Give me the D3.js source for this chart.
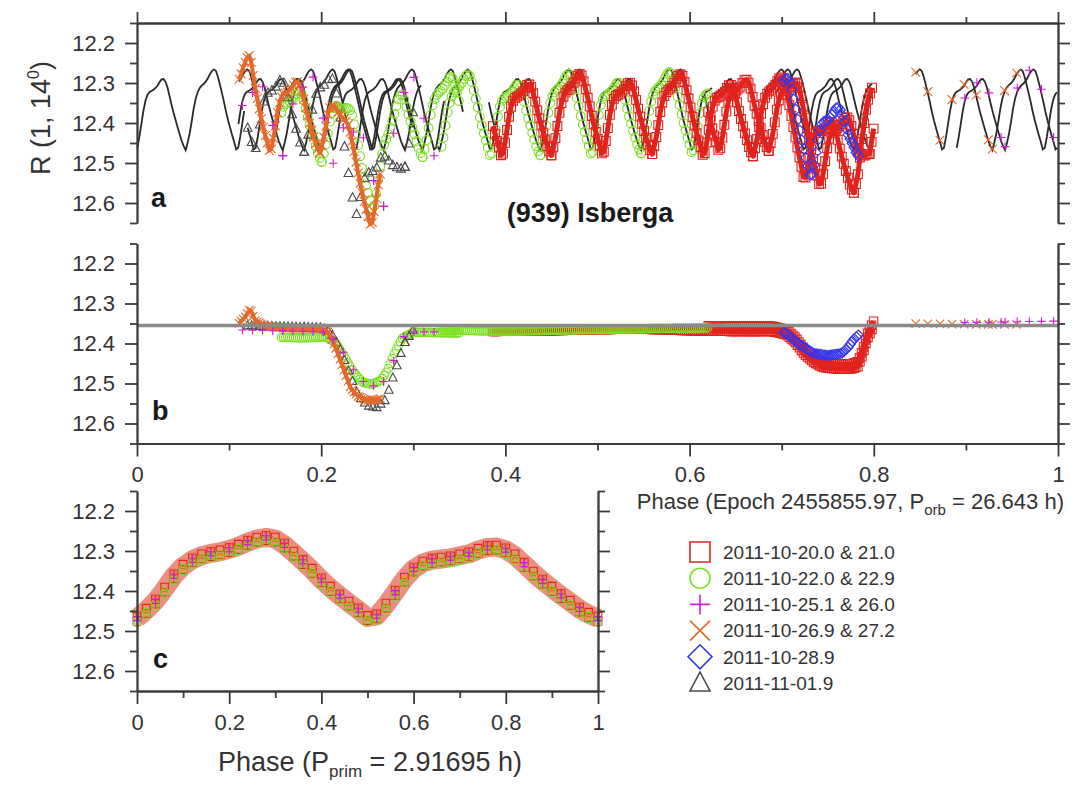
<!DOCTYPE html>
<html>
<head>
<meta charset="utf-8">
<script src="https://cdn.jsdelivr.net/npm/d3@7/dist/d3.min.js"></script>
<style>
  body { margin: 0; background: #fff; }
  text { font-family: "Liberation Sans", Arial, Helvetica, sans-serif; }
</style>
</head>
<body>
<svg id="chart" width="1076" height="785"></svg>
<script>
// periods quoted in the axis titles
const pPrim = 2.91695;
const pOrb = 26.643;
const baseLevel = 12.355; // grey reference line of panel b

// mean primary lightcurve
const primPhase = [0, 0.02, 0.04, 0.06, 0.08, 0.10, 0.12, 0.14, 0.16, 0.18, 0.20, 0.22, 0.24, 0.26, 0.28, 0.30,
  0.32, 0.34, 0.36, 0.38, 0.40, 0.42, 0.44, 0.46, 0.48, 0.50, 0.52, 0.54, 0.56, 0.58, 0.60, 0.62, 0.64,
  0.66, 0.68, 0.70, 0.72, 0.74, 0.76, 0.78, 0.80, 0.82, 0.84, 0.86, 0.88, 0.90, 0.92, 0.94, 0.96, 0.98, 1.00];
const primMag = [12.468, 12.448, 12.425, 12.395, 12.362, 12.338, 12.322, 12.312, 12.306, 12.302, 12.296,
  12.288, 12.278, 12.270, 12.266, 12.270, 12.285, 12.305, 12.326, 12.348, 12.372, 12.393, 12.412, 12.430,
  12.447, 12.466, 12.462, 12.435, 12.403, 12.370, 12.345, 12.330, 12.323, 12.320, 12.317, 12.312, 12.307,
  12.298, 12.291, 12.290, 12.297, 12.312, 12.333, 12.355, 12.375, 12.393, 12.411, 12.428, 12.445, 12.458, 12.468];

// legend entries
const groupLabels = ['2011-10-20.0 & 21.0', '2011-10-22.0 & 22.9', '2011-10-25.1 & 26.0',
  '2011-10-26.9 & 27.2', '2011-10-28.9', '2011-11-01.9'];
const groupColors = ['#e2231d', '#7ddf22', '#cf1fd3', '#e4692a', '#3535ee', '#4a4a4a'];
const groupSymbols = ['square', 'circle', 'plus', 'times', 'diamond', 'triangle'];

// panel b: reduced (rotation removed) curves per legend entry
const eclPhase = [
  [0.38, 0.45, 0.50, 0.55, 0.60, 0.65, 0.69, 0.705, 0.715, 0.725, 0.735, 0.745, 0.76, 0.775, 0.783, 0.788, 0.793, 0.80],
  [0.15, 0.18, 0.205, 0.215, 0.225, 0.235, 0.245, 0.255, 0.265, 0.272, 0.28, 0.288, 0.30, 0.35, 0.40, 0.45, 0.50, 0.55, 0.625],
  [0.11, 0.205, 0.22, 0.235, 0.25, 0.265, 0.275, 0.283, 0.29, 0.30, 0.34, 0.89, 1.0],
  [0.11, 0.118, 0.123, 0.128, 0.14, 0.17, 0.20, 0.208, 0.216, 0.224, 0.232, 0.24, 0.25, 0.258, 0.265, 0.84, 0.90, 0.96],
  [0.695, 0.705, 0.715, 0.725, 0.735, 0.75, 0.765, 0.772, 0.778, 0.785],
  [0.12, 0.20, 0.21, 0.22, 0.23, 0.24, 0.25, 0.26, 0.27, 0.28, 0.29, 0.30, 0.32]
];
const eclMag = [
  [12.362, 12.36, 12.357, 12.356, 12.36, 12.362, 12.362, 12.37, 12.39, 12.42, 12.44, 12.452, 12.456, 12.456, 12.45, 12.42, 12.38, 12.348],
  [12.372, 12.374, 12.372, 12.385, 12.42, 12.46, 12.485, 12.49, 12.48, 12.455, 12.41, 12.375, 12.36, 12.362, 12.365, 12.362, 12.36, 12.358, 12.356],
  [12.36, 12.365, 12.40, 12.46, 12.50, 12.50, 12.46, 12.41, 12.375, 12.365, 12.365, 12.352, 12.348],
  [12.35, 12.33, 12.31, 12.34, 12.355, 12.36, 12.36, 12.37, 12.41, 12.46, 12.51, 12.53, 12.54, 12.54, 12.535, 12.358, 12.36, 12.36],
  [12.365, 12.375, 12.395, 12.41, 12.425, 12.43, 12.425, 12.41, 12.39, 12.375],
  [12.355, 12.36, 12.37, 12.41, 12.47, 12.53, 12.555, 12.56, 12.54, 12.47, 12.40, 12.365, 12.36]
];

// single nights: legend entry, orbital phase of a rotational zero, observed span, model spans
const nightGroup = [0, 0, 1, 1, 2, 2, 3, 3, 4, 5];
const nightZero = [0.012, 0.029, 0.0911, 0.000, 0.0488, 0.0667, 0.0529, 0.089, 0.019, 0.072];
const nightData = [[0.385, 0.80], [0.62, 0.80], [0.155, 0.35], [0.33, 0.62], [0.11, 0.33],
  [0.895, 1.0], [0.845, 0.96], [0.11, 0.265], [0.70, 0.785], [0.12, 0.30]];
const nightModel = [[[0.38, 0.80]], [[0.615, 0.80]], [[0.15, 0.355]], [[0.325, 0.625]], [[0.11, 0.335]],
  [[0.89, 1.0]], [[0.845, 1.0], [0, 0.118]], [[0.11, 0.30]], [[0.695, 0.80]], [[0.12, 0.31]]];
const nightStride = [1, 1, 1, 1, 5, 6, 6, 1, 1, 2];
const nightResid = [0.008, -0.005, 0.012, 0.005, 0.006, -0.004, -0.008, 0.002, 0.0, 0.0];
// nights whose dense runs read as a solid band in panels a and b
const nightBand = [5, 5, 0, 0, 0, 0, 0, 4, 0, 0];

const yMajor = [12.2, 12.3, 12.4, 12.5, 12.6];
const yMinor = [12.15, 12.25, 12.35, 12.45, 12.55, 12.65];
const xMajor = [0, 0.2, 0.4, 0.6, 0.8, 1];
const xMinor = [0.1, 0.3, 0.5, 0.7, 0.9];

const axisColor = '#3a3a3a';
const fontFamily = '"Liberation Sans", Arial, Helvetica, sans-serif';

const svg = d3.select('#chart');

const xAB = d3.scaleLinear().domain([0, 1]).range([137, 1058]);
const xC = d3.scaleLinear().domain([0, 1]).range([137, 598]);
const yA = d3.scaleLinear().domain([12.15, 12.65]).range([23, 223]);
const yB = d3.scaleLinear().domain([12.15, 12.65]).range([243.5, 443.5]);
const yC = d3.scaleLinear().domain([12.15, 12.65]).range([491, 691]);

const pRot = pPrim / pOrb;
const eclScale = eclPhase.map((ph, i) => d3.scaleLinear().domain(ph).range(eclMag[i]).clamp(true));

const markerPath = {
  square: s => `M${-s},${-s}H${s}V${s}H${-s}Z`,
  circle: s => `M${s},0A${s},${s} 0 1,1 ${-s},0A${s},${s} 0 1,1 ${s},0`,
  plus: s => `M${-s},0H${s}M0,${-s}V${s}`,
  times: s => `M${-s},${-s}L${s},${s}M${-s},${s}L${s},${-s}`,
  diamond: s => `M0,${-s * 1.2}L${s * 1.2},0L0,${s * 1.2}L${-s * 1.2},0Z`,
  triangle: s => `M0,${-s * 1.1}L${s},${s * 0.8}L${-s},${s * 0.8}Z`
};

// the primary lightcurve laid out along the orbital phase for one night
function rotationSamples (zero, span, stride) {
  const pts = [];
  for (let k = -12; k <= 12; k++) {
    primPhase.forEach(function (r, i) {
      if (i % stride) return;
      const ph = zero + (k + r) * pRot;
      if (ph >= span[0] && ph <= span[1]) pts.push({ ph: ph, mag: primMag[i] });
    });
  }
  return pts.sort((a, b) => a.ph - b.ph);
}

function styleAxis (g) {
  g.attr('font-size', 22).attr('font-family', fontFamily);
  g.select('.domain').attr('stroke', axisColor).attr('stroke-width', 1.8);
  g.selectAll('.tick line').attr('stroke', axisColor).attr('stroke-width', 1.8);
  g.selectAll('.tick text').attr('fill', '#333');
}

function addAxis (axisFn, scale, pos, major, minor, bigLen, smallLen, fmt) {
  svg.append('g')
    .attr('transform', pos)
    .call(axisFn(scale).tickValues(minor).tickSize(smallLen).tickSizeOuter(0).tickFormat(''))
    .call(styleAxis);
  svg.append('g')
    .attr('transform', pos)
    .call(axisFn(scale).tickValues(major).tickSize(bigLen).tickSizeOuter(0).tickPadding(10)
      .tickFormat(fmt || ''))
    .call(styleAxis);
}

const fmtY = d3.format('.1f');
const fmtX = d3.format('~g');

function drawMarkers (pts, x, y, grp, s, band) {
  if (band) {
    svg.append('path')
      .attr('d', d3.line().x(d => x(d.ph)).y(d => y(d.mag))(pts))
      .attr('fill', 'none')
      .attr('stroke', groupColors[grp])
      .attr('stroke-width', band)
      .attr('stroke-linejoin', 'round');
  }
  svg.append('g')
    .selectAll('path')
    .data(pts)
    .join('path')
      .attr('transform', d => `translate(${x(d.ph)},${y(d.mag)})`)
      .attr('d', markerPath[groupSymbols[grp]](s))
      .attr('fill', 'none')
      .attr('stroke', groupColors[grp])
      .attr('stroke-width', 1.1);
}

// ---------- panel a ----------
const modelLine = d3.line().x(d => xAB(d.ph)).y(d => yA(d.mag));
nightModel.forEach(function (spans, n) {
  spans.forEach(function (span) {
    svg.append('path')
      .attr('d', modelLine(rotationSamples(nightZero[n], span, 1)))
      .attr('fill', 'none')
      .attr('stroke', '#2a2a2a')
      .attr('stroke-width', 1.8);
  });
});

const orderA = [1, 0, 4, 5, 3, 2];
orderA.forEach(function (grp) {
  nightGroup.forEach(function (g, n) {
    if (g !== grp) return;
    const pts = rotationSamples(nightZero[n], nightData[n], nightStride[n])
      .map(p => ({ ph: p.ph, mag: p.mag + eclScale[g](p.ph) - baseLevel + nightResid[n] }));
    drawMarkers(pts, xAB, yA, g, 4.4, nightBand[n]);
  });
});

// ---------- panel b ----------
const orderB = [0, 1, 4, 5, 3, 2];
orderB.forEach(function (grp) {
  nightGroup.forEach(function (g, n) {
    if (g !== grp) return;
    const pts = rotationSamples(nightZero[n], nightData[n], nightStride[n])
      .map(p => ({ ph: p.ph, mag: eclScale[g](p.ph) + nightResid[n] }));
    drawMarkers(pts, xAB, yB, g, 4.2, nightBand[n]);
  });
});

svg.append('line')
  .attr('x1', xAB(0)).attr('x2', xAB(1))
  .attr('y1', yB(baseLevel)).attr('y2', yB(baseLevel))
  .attr('stroke', '#8a8a8a')
  .attr('stroke-width', 3.5);

// ---------- panel c ----------
const bandLine = d3.line().x((d, i) => xC(primPhase[i])).y(d => yC(d));
svg.append('path')
  .attr('d', bandLine(primMag))
  .attr('fill', 'none')
  .attr('stroke', '#e0452c')
  .attr('stroke-opacity', 0.6)
  .attr('stroke-width', 19)
  .attr('stroke-linejoin', 'round');

const orderC = [0, 3, 1, 2];
orderC.forEach(function (grp) {
  nightGroup.forEach(function (g, n) {
    if (g !== grp) return;
    const st = Math.min(nightStride[n], 2);
    const pts = primPhase
      .map((r, i) => ({ ph: r, mag: primMag[i] + nightResid[n], i: i }))
      .filter(p => p.i % st === 0);
    drawMarkers(pts, xC, yC, g, 3.8, 0);
  });
});

// ---------- axes ----------
// panel a
addAxis(d3.axisLeft, yA, 'translate(137,0)', yMajor, yMinor, 12, 7, fmtY);
addAxis(d3.axisRight, yA, 'translate(1058,0)', yMajor, yMinor, 12, 7);
addAxis(d3.axisTop, xAB, 'translate(0,23)', xMajor, xMinor, 11, 6);
// panel b
addAxis(d3.axisLeft, yB, 'translate(137,0)', yMajor, yMinor, 12, 7, fmtY);
addAxis(d3.axisRight, yB, 'translate(1058,0)', yMajor, yMinor, 12, 7);
addAxis(d3.axisBottom, xAB, 'translate(0,443.5)', xMajor, xMinor, 13, 7, fmtX);
// panel c
addAxis(d3.axisLeft, yC, 'translate(137,0)', yMajor, yMinor, 12, 7, fmtY);
addAxis(d3.axisRight, yC, 'translate(598,0)', yMajor, yMinor, 12, 7);
addAxis(d3.axisBottom, xC, 'translate(0,691)', xMajor, xMinor, 13, 7, fmtX);

// ---------- texts ----------
const ylab = svg.append('text')
  .attr('transform', 'translate(50,118) rotate(-90)')
  .attr('text-anchor', 'middle')
  .attr('font-size', 27)
  .attr('fill', '#333');
ylab.append('tspan').text('R (1, 14');
ylab.append('tspan').attr('font-size', 16).attr('dy', -11).text('0');
ylab.append('tspan').attr('dy', 11).text(')');

[['a', 151, 207], ['b', 152, 420], ['c', 153, 668]].forEach(function (d) {
  svg.append('text')
    .attr('x', d[1]).attr('y', d[2])
    .attr('font-size', 27)
    .attr('font-weight', 'bold')
    .attr('fill', '#1a1a1a')
    .text(d[0]);
});

svg.append('text')
  .attr('x', 590).attr('y', 222)
  .attr('text-anchor', 'middle')
  .attr('font-size', 27)
  .attr('font-weight', 'bold')
  .attr('fill', '#1a1a1a')
  .text('(939) Isberga');

const xlabB = svg.append('text')
  .attr('x', 1064).attr('y', 509)
  .attr('text-anchor', 'end')
  .attr('font-size', 22)
  .attr('fill', '#333');
xlabB.append('tspan').text('Phase (Epoch 2455855.97, P');
xlabB.append('tspan').attr('font-size', 15).attr('dy', 6).text('orb');
xlabB.append('tspan').attr('dy', -6).text(' = 26.643 h)');

const xlabC = svg.append('text')
  .attr('x', 370).attr('y', 771)
  .attr('text-anchor', 'middle')
  .attr('font-size', 27)
  .attr('fill', '#333');
xlabC.append('tspan').text('Phase (P');
xlabC.append('tspan').attr('font-size', 17).attr('dy', 6).text('prim');
xlabC.append('tspan').attr('dy', -6).text(' = 2.91695 h)');

// ---------- legend ----------
const legend = svg.append('g')
  .selectAll('g')
  .data(groupLabels)
  .join('g')
    .attr('transform', (d, i) => `translate(700,${552 + i * 26.2})`);

legend.append('path')
  .attr('d', (d, i) => markerPath[groupSymbols[i]](10))
  .attr('fill', 'none')
  .attr('stroke', (d, i) => groupColors[i])
  .attr('stroke-width', 1.6);

legend.append('text')
  .attr('x', 23)
  .attr('dy', '0.36em')
  .attr('font-size', 19)
  .attr('fill', '#333')
  .text(d => d);
</script>
</body>
</html>
